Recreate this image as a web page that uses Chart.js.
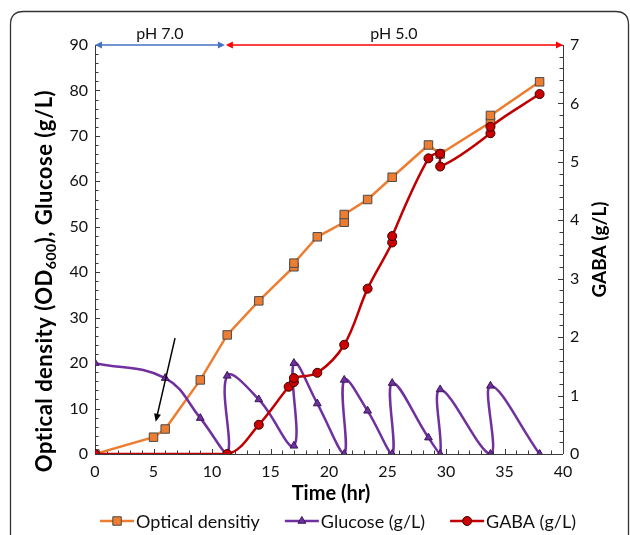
<!DOCTYPE html>
<html>
<head>
<meta charset="utf-8">
<script src="https://cdn.jsdelivr.net/npm/chart.js@4.4.0/dist/chart.umd.min.js"></script>
<style>
  html, body { margin: 0; padding: 0; background: #ffffff; }
  #wrap { width: 630px; height: 535px; position: relative; }
</style>
</head>
<body>
<div id="wrap"><canvas id="chart" width="630" height="535"></canvas></div>
<script>
// Fed-batch fermentation time course
const odTime        = [0, 5, 6, 9, 11.3, 14, 17, 17, 19, 21.3, 21.3, 23.3, 25.4, 28.5, 29.5, 33.8, 33.8, 38];
const odValues      = [0, 3.7, 5.5, 16.3, 26.2, 33.7, 41.2, 42.0, 47.8, 51.0, 52.7, 56.0, 60.9, 68.0, 66.0, 73.0, 74.5, 81.9];

const glucoseTime   = [0, 6, 9, 11.3, 11.3, 14, 17, 17, 19, 21.3, 21.3, 23.3, 25.4, 25.4, 28.5, 29.5, 29.5, 33.8, 33.8, 38];
const glucoseValues = [20.0, 16.7, 7.9, 0, 17.2, 12.0, 1.8, 20.0, 11.1, 0, 16.3, 9.5, 0, 15.6, 3.6, 0, 14.2, 0, 15.0, 0];

const gabaTime      = [0, 11.3, 14, 16.55, 17, 17, 19, 21.3, 23.3, 25.4, 25.4, 28.5, 29.5, 29.5, 33.8, 33.8, 38];
const gabaValues    = [0, 0, 0.50, 1.15, 1.23, 1.30, 1.39, 1.87, 2.83, 3.62, 3.73, 5.06, 5.14, 4.92, 5.49, 5.60, 6.16];

// Axis tick labels
const timeTicks = [0, 5, 10, 15, 20, 25, 30, 35, 40];
const leftTicks = [0, 10, 20, 30, 40, 50, 60, 70, 80, 90];
const gabaTicks = [0, 1, 2, 3, 4, 5, 6, 7];

// pH phases along the top of the plot (time range, label, colour)
const phPhases = [
  { from: 0,    to: 11.1, label: 'pH 7.0', color: '#4472C4' },
  { from: 11.1, to: 40,   label: 'pH 5.0', color: '#FF0000' }
];
// Pointer arrow (time, left-axis value)
const pointerFrom = [6.84, 25.5];
const pointerTo   = [5.19, 7.1];

const COLORS = {
  od:      { line: '#ED7D31', fill: '#ED7D31', edge: '#4a4a4a' },
  glucose: { line: '#7030A0', fill: '#7030A0', edge: '#3a1858' },
  gaba:    { line: '#C00000', fill: '#CC0000', edge: '#3a0000' }
};
const AXIS = '#3a3a3a';
const FONT = 'Lato, "Open Sans", sans-serif';

const toXY = (xs, ys) => xs.map((x, i) => ({ x: x, y: ys[i] }));

function drawMarker(ctx, style, x, y, r, fill, edge) {
  ctx.save();
  ctx.beginPath();
  if (style === 'rect') {
    const h = r * Math.SQRT1_2;
    ctx.rect(x - h, y - h, 2 * h, 2 * h);
  } else if (style === 'triangle') {
    ctx.moveTo(x, y - r);
    ctx.lineTo(x + r * Math.sin(Math.PI / 3), y + r * 0.5);
    ctx.lineTo(x - r * Math.sin(Math.PI / 3), y + r * 0.5);
    ctx.closePath();
  } else {
    ctx.arc(x, y, r, 0, Math.PI * 2);
  }
  ctx.fillStyle = fill;
  ctx.fill();
  ctx.lineWidth = 1;
  ctx.strokeStyle = edge;
  ctx.stroke();
  ctx.restore();
}

function arrowHead(ctx, tipX, tipY, dirX, dirY, len, half, color) {
  const n = Math.hypot(dirX, dirY);
  const ux = dirX / n, uy = dirY / n;
  const bx = tipX - ux * len, by = tipY - uy * len;
  ctx.beginPath();
  ctx.moveTo(tipX, tipY);
  ctx.lineTo(bx - uy * half, by + ux * half);
  ctx.lineTo(bx + uy * half, by - ux * half);
  ctx.closePath();
  ctx.fillStyle = color;
  ctx.fill();
}

const decorations = {
  id: 'decorations',
  beforeDraw(chart) {
    const ctx = chart.ctx;
    ctx.save();
    ctx.fillStyle = '#ffffff';
    ctx.fillRect(0, 0, chart.width, chart.height);
    // rounded panel frame
    const x0 = 10.5, y0 = 11.5, x1 = 628.5, y1 = 620, rad = 13;
    ctx.beginPath();
    ctx.moveTo(x0, y1);
    ctx.lineTo(x0, y0 + rad);
    ctx.quadraticCurveTo(x0, y0, x0 + rad, y0);
    ctx.lineTo(x1 - rad, y0);
    ctx.quadraticCurveTo(x1, y0, x1, y0 + rad);
    ctx.lineTo(x1, y1);
    ctx.strokeStyle = '#333333';
    ctx.lineWidth = 1.3;
    ctx.stroke();
    ctx.restore();
  },
  beforeDatasetsDraw(chart) {
    const { ctx, chartArea: a, scales } = chart;
    const xs = scales.x, yl = scales.y, yr = scales.y2;
    ctx.save();
    ctx.strokeStyle = AXIS;
    ctx.lineWidth = 1;
    ctx.beginPath();
    ctx.moveTo(Math.round(a.left) + 0.5, a.top);
    ctx.lineTo(Math.round(a.left) + 0.5, a.bottom);
    ctx.moveTo(a.left, Math.round(a.bottom) + 0.5);
    ctx.lineTo(a.right, Math.round(a.bottom) + 0.5);
    ctx.moveTo(Math.round(a.right) + 0.5, a.top);
    ctx.lineTo(Math.round(a.right) + 0.5, a.bottom);
    // inward ticks: time every 1 h
    for (let t = 0; t <= 40; t += 1) {
      const px = Math.round(xs.getPixelForValue(t)) + 0.5;
      const len = t % 5 === 0 ? 5 : 3.5;
      ctx.moveTo(px, a.bottom);
      ctx.lineTo(px, a.bottom - len);
    }
    // left axis every 2
    for (let v = 0; v <= 90; v += 2) {
      const py = Math.round(yl.getPixelForValue(v)) + 0.5;
      const len = v % 10 === 0 ? 5 : 3.5;
      ctx.moveTo(a.left, py);
      ctx.lineTo(a.left + len, py);
    }
    // right axis every 0.2
    for (let k = 0; k <= 35; k++) {
      const v = k * 0.2;
      const py = Math.round(yr.getPixelForValue(v)) + 0.5;
      const len = k % 5 === 0 ? 5 : 3.5;
      ctx.moveTo(a.right, py);
      ctx.lineTo(a.right - len, py);
    }
    ctx.stroke();
    ctx.restore();
  },
  afterDraw(chart) {
    const { ctx, chartArea: a, scales } = chart;
    const xs = scales.x, yl = scales.y;
    ctx.save();

    // pH phase arrows
    phPhases.forEach(p => {
      const x0 = xs.getPixelForValue(p.from), x1 = xs.getPixelForValue(p.to);
      const y = a.top;
      const inset = p.from === 0 ? 0 : 1;
      ctx.strokeStyle = p.color;
      ctx.lineWidth = 1.5;
      ctx.beginPath();
      ctx.moveTo(x0 + inset + 5, y);
      ctx.lineTo(x1 - 5, y);
      ctx.stroke();
      arrowHead(ctx, x0 + inset, y, -1, 0, 7, 3.5, p.color);
      arrowHead(ctx, x1, y, 1, 0, 7, 3.5, p.color);
      ctx.fillStyle = '#111111';
      ctx.font = '16px ' + FONT;
      ctx.textAlign = 'center';
      ctx.textBaseline = 'middle';
      ctx.fillText(p.label, (x0 + x1) / 2, y - 11);
    });

    // pointer arrow
    const fx = xs.getPixelForValue(pointerFrom[0]), fy = yl.getPixelForValue(pointerFrom[1]);
    const tx = xs.getPixelForValue(pointerTo[0]), ty = yl.getPixelForValue(pointerTo[1]);
    const dx = tx - fx, dy = ty - fy, dl = Math.hypot(dx, dy);
    ctx.strokeStyle = '#000000';
    ctx.lineWidth = 1.5;
    ctx.beginPath();
    ctx.moveTo(fx, fy);
    ctx.lineTo(tx - dx / dl * 6, ty - dy / dl * 6);
    ctx.stroke();
    arrowHead(ctx, tx, ty, dx, dy, 8, 3.5, '#000000');

    // axis titles
    ctx.fillStyle = '#000000';
    ctx.textBaseline = 'middle';
    ctx.textAlign = 'center';
    ctx.font = 'bold 20px ' + FONT;
    ctx.fillText('Time (hr)', (a.left + a.right) / 2 + 2, 494);

    // left title with subscript
    const big = 'bold 22px ' + FONT, small = 'bold 14px ' + FONT;
    const p1 = 'Optical density (OD', sub = '600', p2 = '), Glucose (g/L)';
    ctx.save();
    ctx.letterSpacing = '0.5px';
    ctx.font = big; const w1 = ctx.measureText(p1).width, w3 = ctx.measureText(p2).width;
    ctx.font = small; const w2 = ctx.measureText(sub).width;
    const total = w1 + w2 + w3;
    ctx.translate(45, 281);
    ctx.rotate(-Math.PI / 2);
    ctx.textAlign = 'left';
    ctx.textBaseline = 'alphabetic';
    let cx = -total / 2;
    ctx.font = big; ctx.fillText(p1, cx, 7); cx += w1;
    ctx.font = small; ctx.fillText(sub, cx, 11); cx += w2;
    ctx.font = big; ctx.fillText(p2, cx, 7);
    ctx.restore();

    // right title
    ctx.save();
    ctx.translate(600, (a.top + a.bottom) / 2);
    ctx.rotate(-Math.PI / 2);
    ctx.font = 'bold 19px ' + FONT;
    ctx.textAlign = 'center';
    ctx.textBaseline = 'middle';
    ctx.fillText('GABA (g/L)', 0, 0);
    ctx.restore();

    // legend
    const items = chart.data.datasets.slice().sort((p, q) => p.legendIndex - q.legendIndex);
    ctx.font = '18px ' + FONT;
    const seg = 34, gapText = 2, gapItem = 25;
    const widths = items.map(d => ctx.measureText(d.label).width);
    const totalW = widths.reduce((s, w) => s + w + seg + gapText, 0) + gapItem * (items.length - 1);
    let lx = 338 - totalW / 2;
    const ly = 521;
    items.forEach((d, i) => {
      ctx.strokeStyle = d.borderColor;
      ctx.lineWidth = 2.5;
      ctx.beginPath();
      ctx.moveTo(lx, ly);
      ctx.lineTo(lx + seg, ly);
      ctx.stroke();
      drawMarker(ctx, d.pointStyle, lx + seg / 2, ly, d.pointRadius, d.pointBackgroundColor, d.pointBorderColor);
      ctx.fillStyle = '#111111';
      ctx.textAlign = 'left';
      ctx.textBaseline = 'middle';
      ctx.fillText(d.label, lx + seg + gapText, ly + 1);
      lx += seg + gapText + widths[i] + gapItem;
    });

    ctx.restore();
  }
};

const tickFont = { family: FONT, size: 16 };

new Chart(document.getElementById('chart'), {
  type: 'line',
  data: {
    datasets: [
      {
        label: 'GABA (g/L)', legendIndex: 2, order: 0,
        data: toXY(gabaTime, gabaValues), yAxisID: 'y2',
        borderColor: COLORS.gaba.line, borderWidth: 2.5, tension: 0.35,
        pointStyle: 'circle', pointRadius: 4.5,
        pointBackgroundColor: COLORS.gaba.fill, pointBorderColor: COLORS.gaba.edge, pointBorderWidth: 1
      },
      {
        label: 'Glucose (g/L)', legendIndex: 1, order: 1,
        data: toXY(glucoseTime, glucoseValues), yAxisID: 'y',
        borderColor: COLORS.glucose.line, borderWidth: 2.5, tension: 0.4,
        pointStyle: 'triangle', pointRadius: 4.5,
        pointBackgroundColor: COLORS.glucose.fill, pointBorderColor: COLORS.glucose.edge, pointBorderWidth: 1
      },
      {
        label: 'Optical densitiy', legendIndex: 0, order: 2,
        data: toXY(odTime, odValues), yAxisID: 'y',
        borderColor: COLORS.od.line, borderWidth: 2.5, tension: 0,
        pointStyle: 'rect', pointRadius: 6,
        pointBackgroundColor: COLORS.od.fill, pointBorderColor: COLORS.od.edge, pointBorderWidth: 1
      }
    ]
  },
  options: {
    responsive: false,
    animation: false,
    devicePixelRatio: 1,
    layout: { padding: { top: 45, left: 0, right: 0, bottom: 0 } },
    plugins: { legend: { display: false }, tooltip: { enabled: false } },
    scales: {
      x: {
        type: 'linear', min: 0, max: 40,
        afterBuildTicks: s => { s.ticks = timeTicks.map(v => ({ value: v })); },
        afterFit: s => { s.height = 81; },
        grid: { display: false, drawTicks: false }, border: { display: false },
        ticks: { font: tickFont, color: '#111111', padding: 8, maxRotation: 0 }
      },
      y: {
        position: 'left', min: 0, max: 90,
        afterBuildTicks: s => { s.ticks = leftTicks.map(v => ({ value: v })); },
        afterFit: s => { s.width = 95; },
        grid: { display: false, drawTicks: false }, border: { display: false },
        ticks: { font: tickFont, color: '#111111', padding: 7 }
      },
      y2: {
        position: 'right', min: 0, max: 7,
        afterBuildTicks: s => { s.ticks = gabaTicks.map(v => ({ value: v })); },
        afterFit: s => { s.width = 67; },
        grid: { display: false, drawTicks: false }, border: { display: false },
        ticks: { font: tickFont, color: '#111111', padding: 7 }
      }
    }
  },
  plugins: [decorations]
});
</script>
</body>
</html>
